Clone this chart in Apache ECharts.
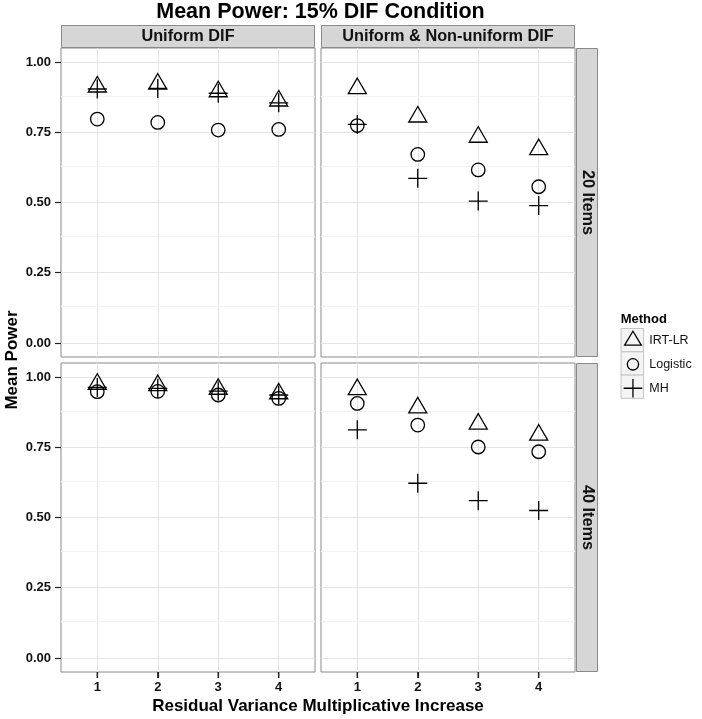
<!DOCTYPE html>
<html><head><meta charset="utf-8">
<script src="https://cdn.jsdelivr.net/npm/echarts@6/dist/echarts.min.js"></script>
<style>html,body{margin:0;padding:0;background:#fff}#c{width:702px;height:719px}</style>
</head><body><div id="c"></div>
<script>
// ---------- data ----------
const chartTitle = 'Mean Power: 15% DIF Condition';
const colFacets = ['Uniform DIF', 'Uniform & Non-uniform DIF'];
const rowFacets = ['20 Items', '40 Items'];
const methods = ['IRT-LR', 'Logistic', 'MH'];
const xValues = [1, 2, 3, 4];
const xTickValues = [1, 2, 3, 4];
const yTickValues = [0, 0.25, 0.5, 0.75, 1];
const yMinorValues = [0.125, 0.375, 0.625, 0.875];
const xAxisTitle = 'Residual Variance Multiplicative Increase';
const yAxisTitle = 'Mean Power';
const legendTitle = 'Method';

// 20 items, Uniform DIF
const irtlr_20_uni = [0.912, 0.922, 0.895, 0.862];
const logistic_20_uni = [0.797, 0.785, 0.758, 0.760];
const mh_20_uni = [0.904, 0.906, 0.889, 0.855];
// 20 items, Uniform & Non-uniform DIF
const irtlr_20_non = [0.906, 0.805, 0.733, 0.689];
const logistic_20_non = [0.774, 0.671, 0.616, 0.556];
const mh_20_non = [0.778, 0.586, 0.505, 0.489];
// 40 items, Uniform DIF
const irtlr_40_uni = [0.975, 0.970, 0.957, 0.941];
const logistic_40_uni = [0.948, 0.949, 0.936, 0.924];
const mh_40_uni = [0.963, 0.960, 0.950, 0.936];
// 40 items, Uniform & Non-uniform DIF
const irtlr_40_non = [0.956, 0.891, 0.833, 0.794];
const logistic_40_non = [0.906, 0.829, 0.751, 0.734];
const mh_40_non = [0.812, 0.622, 0.560, 0.525];

const panelData = [
  [ {'IRT-LR': irtlr_20_uni, 'Logistic': logistic_20_uni, 'MH': mh_20_uni},
    {'IRT-LR': irtlr_20_non, 'Logistic': logistic_20_non, 'MH': mh_20_non} ],
  [ {'IRT-LR': irtlr_40_uni, 'Logistic': logistic_40_uni, 'MH': mh_40_uni},
    {'IRT-LR': irtlr_40_non, 'Logistic': logistic_40_non, 'MH': mh_40_non} ]
];

// ---------- layout / style ----------
const FONT = '"Liberation Sans", Arial, Helvetica, sans-serif';
const PANEL_LEFT = [61, 321];
const PANEL_TOP = [48, 363];
const PANEL_W = 254, PANEL_H = 309;
const X_MIN = 0.4, X_MAX = 4.6, Y_MIN = -0.05, Y_MAX = 1.05;
const BORDER = '#8a8a8a';
const MAJOR = '#e4e4e4';
const MINOR = '#f3f3f3';
const STRIP_FILL = '#d6d6d6';
const TICK = '#222';
const TICK_LEN = 6;
const LW = 1.3;

const symbolDefs = {
  'IRT-LR': { symbol: 'path://M0,10M0,-10L8.66,5L-8.66,5Z', size: [18, 20.7] },
  'Logistic': { symbol: 'circle', size: 13.5 },
  'MH': { symbol: 'path://M0,-1L0,1M-1,0L1,0', size: 19 }
};
const legendIcons = {
  'IRT-LR': 'path://M-11.5,-11.5M11.5,11.5M0,-9.33L8.5,4.67L-8.5,4.67Z',
  'Logistic': 'path://M-11.5,-11.5M11.5,11.5M5.75,0A5.75,5.75,0,1,1,-5.75,0A5.75,5.75,0,1,1,5.75,0Z',
  'MH': 'path://M-11.5,-11.5M11.5,11.5M0,-9.5L0,9.5M-9.5,0L9.5,0'
};

const grids = [], xAxes = [], yAxes = [], series = [];
let gi = 0;
for (let r = 0; r < 2; r++) {
  for (let c = 0; c < 2; c++) {
    grids.push({
      left: PANEL_LEFT[c], top: PANEL_TOP[r], width: PANEL_W, height: PANEL_H,
      show: true, borderColor: BORDER, borderWidth: 1, backgroundColor: '#fff', containLabel: false
    });
    const showX = r === 1, showY = c === 0;
    xAxes.push({
      type: 'value', gridIndex: gi, min: X_MIN, max: X_MAX, position: 'bottom',
      axisLine: { show: false, onZero: false },
      axisTick: { show: showX, inside: false, length: TICK_LEN, customValues: xTickValues, lineStyle: { color: TICK, width: 1.2 } },
      axisLabel: { show: showX, customValues: xTickValues, margin: 9, fontSize: 13, fontWeight: 'bold', color: '#111', fontFamily: FONT },
      splitLine: { show: true, lineStyle: { color: MAJOR, width: 1 } }
    });
    yAxes.push({
      type: 'value', gridIndex: gi, min: Y_MIN, max: Y_MAX, position: 'left',
      axisLine: { show: false, onZero: false },
      axisTick: { show: showY, inside: false, length: TICK_LEN, customValues: yTickValues, lineStyle: { color: TICK, width: 1.2 } },
      axisLabel: { show: showY, customValues: yTickValues, margin: 10, fontSize: 13, fontWeight: 'bold', color: '#111', fontFamily: FONT,
        formatter: v => v.toFixed(2) },
      splitLine: { show: true, lineStyle: { color: MAJOR, width: 1 } }
    });
    const pd = panelData[r][c];
    methods.forEach((m, mi) => {
      const s = {
        type: 'scatter', name: m, xAxisIndex: gi, yAxisIndex: gi,
        symbol: symbolDefs[m].symbol, symbolSize: symbolDefs[m].size,
        itemStyle: { color: 'rgba(0,0,0,0)', borderColor: '#000', borderWidth: LW, opacity: 1 },
        emphasis: { disabled: true },
        silent: true,
        z: 5,
        data: xValues.map((x, i) => [x, pd[m][i]])
      };
      if (mi === 0) {
        s.markLine = {
          silent: true, symbol: 'none', z: 1,
          label: { show: false },
          lineStyle: { color: MINOR, width: 1, type: 'solid' },
          emphasis: { disabled: true },
          animation: false,
          data: yMinorValues.map(v => ({ yAxis: v }))
        };
      }
      series.push(s);
    });
    gi++;
  }
}

const graphics = [];
// main title
graphics.push({ type: 'text', x: 320.5, y: 12, silent: true,
  style: { text: chartTitle, fontSize: 21.5, fontWeight: 'bold', fontFamily: FONT, fill: '#000', align: 'center', verticalAlign: 'middle' } });
// top strips
colFacets.forEach((t, c) => {
  graphics.push({ type: 'rect', silent: true, z: 0,
    shape: { x: PANEL_LEFT[c] + 0.5, y: 25.5, width: PANEL_W - 1, height: 22 },
    style: { fill: STRIP_FILL, stroke: BORDER, lineWidth: 1 } });
  graphics.push({ type: 'text', silent: true, z: 1, x: PANEL_LEFT[c] + PANEL_W / 2, y: 36.7,
    style: { text: t, fontSize: 16.3, fontWeight: 'bold', fontFamily: FONT, fill: '#111', align: 'center', verticalAlign: 'middle' } });
});
// right strips
rowFacets.forEach((t, r) => {
  graphics.push({ type: 'rect', silent: true, z: 0,
    shape: { x: 576.5, y: PANEL_TOP[r] + 0.5, width: 21, height: PANEL_H - 1 },
    style: { fill: STRIP_FILL, stroke: BORDER, lineWidth: 1 } });
  graphics.push({ type: 'text', silent: true, z: 1, x: 587, y: PANEL_TOP[r] + PANEL_H / 2, rotation: -Math.PI / 2,
    style: { text: t, fontSize: 16.3, fontWeight: 'bold', fontFamily: FONT, fill: '#111', align: 'center', verticalAlign: 'middle' } });
});
// axis titles
graphics.push({ type: 'text', silent: true, x: 318, y: 706.3,
  style: { text: xAxisTitle, fontSize: 17, fontWeight: 'bold', fontFamily: FONT, fill: '#000', align: 'center', verticalAlign: 'middle' } });
graphics.push({ type: 'text', silent: true, x: 12.5, y: 360, rotation: Math.PI / 2,
  style: { text: yAxisTitle, fontSize: 17, fontWeight: 'bold', fontFamily: FONT, fill: '#000', align: 'center', verticalAlign: 'middle' } });
// legend title and key boxes
graphics.push({ type: 'text', silent: true, x: 620.7, y: 319.5,
  style: { text: legendTitle, fontSize: 13, fontWeight: 'bold', fontFamily: FONT, fill: '#000', align: 'left', verticalAlign: 'middle' } });
methods.forEach((m, i) => {
  graphics.push({ type: 'rect', silent: true, z: -1,
    shape: { x: 621, y: 328.5 + i * 23.3, width: 22.6, height: 23.3 },
    style: { fill: '#f4f4f4', stroke: '#c4c4c4', lineWidth: 1 } });
});

const chart = echarts.init(document.getElementById('c'), null, { renderer: 'canvas' });
chart.setOption({
  animation: false,
  backgroundColor: '#fff',
  grid: grids,
  xAxis: xAxes,
  yAxis: yAxes,
  legend: {
    data: methods.map(m => ({ name: m, icon: legendIcons[m] })),
    orient: 'vertical', left: 621, top: 328.5,
    itemWidth: 22.6, itemHeight: 23.3, itemGap: 0, padding: 0,
    selectedMode: false,
    itemStyle: { color: 'rgba(0,0,0,0)', borderColor: '#000', borderWidth: LW },
    textStyle: { fontSize: 12.5, color: '#111', fontFamily: FONT }
  },
  graphic: { elements: graphics },
  series: series
});

// reinforce the x-axis ticks of the bottom panels as small filled bars, placed through the axes' own scales
const tickEls = [];
[2, 3].forEach(gIdx => {
  const yBottom = PANEL_TOP[1] + PANEL_H;
  xTickValues.forEach(v => {
    let px = chart.convertToPixel({ xAxisIndex: gIdx }, v);
    if (Array.isArray(px)) px = px[0];
    if (typeof px === 'number' && isFinite(px)) {
      tickEls.push({ type: 'rect', silent: true, z: 100,
        shape: { x: px - 0.65, y: yBottom, width: 1.3, height: TICK_LEN },
        style: { fill: TICK, stroke: null } });
    }
  });
});
graphics.push.apply(graphics, tickEls);
chart.setOption({ graphic: { elements: graphics } }, { replaceMerge: ['graphic'] });
</script>
</body></html>
